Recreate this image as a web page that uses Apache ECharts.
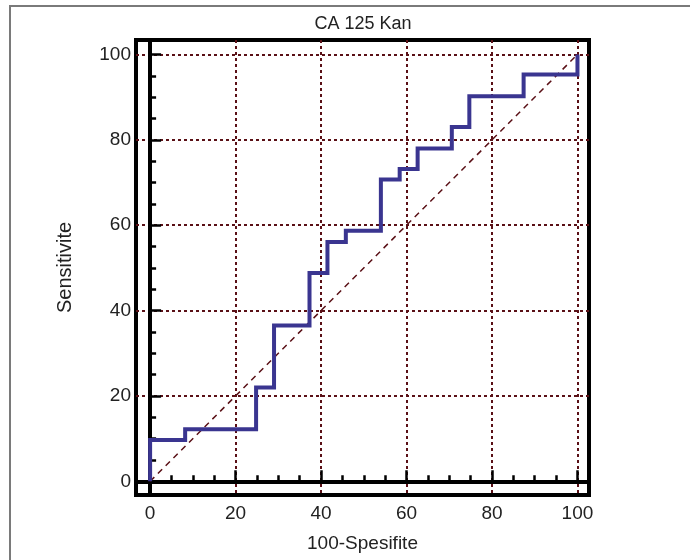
<!DOCTYPE html>
<html>
<head>
<meta charset="utf-8">
<script src="https://cdn.jsdelivr.net/npm/echarts@6/dist/echarts.min.js"></script>
<style>
html, body { margin: 0; padding: 0; background: #fff; }
#chart { width: 690px; height: 560px; }
</style>
</head>
<body>
<div id="chart"></div>
<script>
// ROC curve points (100-specificity, sensitivity)
var fprValues = [0, 0, 8.2, 24.8, 29, 37.3, 41.5, 45.8, 54, 58.4, 62.6, 70.6, 74.7, 87.4, 100];
var tprValues = [0, 9.7, 12.2, 22, 36.5, 48.8, 56.1, 58.7, 70.7, 73.2, 78, 83, 90.2, 95.3, 100];
var diagonalX = [0, 100];
var diagonalY = [0, 100];
var majorTicks = [0, 20, 40, 60, 80, 100];
var minorTicks = [5, 10, 15, 25, 30, 35, 45, 50, 55, 65, 70, 75, 85, 90, 95];

var FONT = '"Liberation Sans", Arial, sans-serif';
var GRIDC = '#5a1016';

var rocData = fprValues.map(function (x, i) { return [x, tprValues[i]]; });
var diagData = diagonalX.map(function (x, i) { return [x, diagonalY[i]]; });

var chart = echarts.init(document.getElementById('chart'), null, { renderer: 'canvas' });

var gridPos = { left: 136, right: 101, top: 40, bottom: 65 };

var option = {
	animation: false,
	backgroundColor: '#fff',
	title: {
		text: 'CA 125 Kan',
		left: 358, top: 10, textAlign: 'center',
		textStyle: { fontFamily: FONT, fontSize: 18, fontWeight: 'normal', color: '#222' }
	},
	graphic: [{
		type: 'rect',
		shape: { x: 10, y: 6, width: 690, height: 600 },
		style: { fill: 'none', stroke: '#7a7a7a', lineWidth: 2 },
		silent: true
	}],
	grid: [
		Object.assign({ show: true, borderColor: '#000', borderWidth: 4, backgroundColor: 'transparent' }, gridPos),
		Object.assign({ show: false }, gridPos)
	],
	xAxis: [{
		type: 'value', gridIndex: 0,
		min: -3.3, max: 102.7,
		name: '100-Spesifite', nameLocation: 'middle', nameGap: 39,
		nameTextStyle: { fontFamily: FONT, fontSize: 19, color: '#222' },
		axisLine: { show: true, lineStyle: { color: '#000', width: 4 } },
		axisTick: { show: true, inside: true, length: 11, customValues: majorTicks, lineStyle: { color: '#000', width: 2.5 } },
		axisLabel: { customValues: majorTicks, margin: 9, fontFamily: FONT, fontSize: 19, color: '#222' },
		splitLine: { show: true, lineStyle: { color: GRIDC, width: 2, type: [3, 3] } }
	}, {
		type: 'value', gridIndex: 1,
		min: -3.3, max: 102.7,
		axisLine: { show: false },
		axisTick: { show: true, inside: true, length: 6, customValues: minorTicks, lineStyle: { color: '#000', width: 2.5 } },
		axisLabel: { show: false },
		splitLine: { show: false }
	}],
	yAxis: [{
		type: 'value', gridIndex: 0,
		min: -3.2, max: 103.4,
		name: 'Sensitivite', nameLocation: 'middle', nameGap: 61, nameRotate: 90,
		nameTextStyle: { fontFamily: FONT, fontSize: 20, color: '#222' },
		axisLine: { show: true, lineStyle: { color: '#000', width: 4 } },
		axisTick: { show: true, inside: true, length: 11, customValues: majorTicks, lineStyle: { color: '#000', width: 2.5 } },
		axisLabel: { customValues: majorTicks, margin: 5, fontFamily: FONT, fontSize: 19, color: '#222' },
		splitLine: { show: true, lineStyle: { color: GRIDC, width: 2, type: [3, 3] } }
	}, {
		type: 'value', gridIndex: 1,
		min: -3.2, max: 103.4,
		axisLine: { show: false },
		axisTick: { show: true, inside: true, length: 6, customValues: minorTicks, lineStyle: { color: '#000', width: 2.5 } },
		axisLabel: { show: false },
		splitLine: { show: false }
	}],
	series: [{
		name: 'diagonal',
		type: 'line',
		xAxisIndex: 0, yAxisIndex: 0,
		data: diagData,
		symbol: 'none',
		lineStyle: { color: GRIDC, width: 1.5, type: [6, 5] },
		z: 3
	}, {
		name: 'CA 125 Kan',
		type: 'line',
		xAxisIndex: 0, yAxisIndex: 0,
		data: rocData,
		step: 'end',
		symbol: 'none',
		lineStyle: { color: '#3a3590', width: 4, cap: 'butt', join: 'miter' },
		z: 4
	}]
};

chart.setOption(option);
</script>
</body>
</html>
